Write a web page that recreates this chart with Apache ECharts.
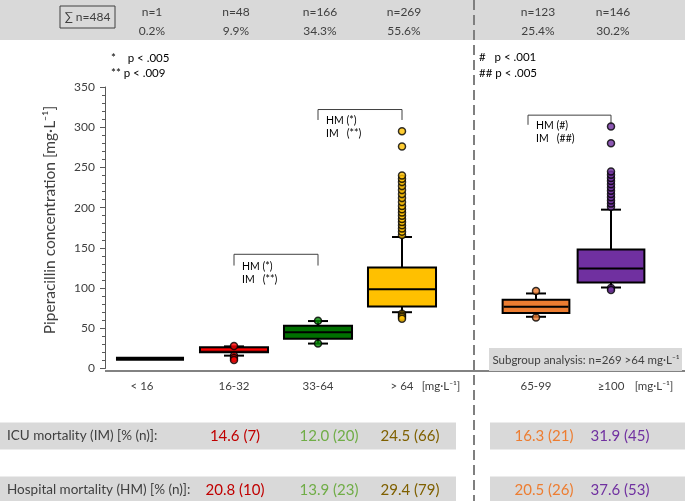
<!DOCTYPE html>
<html><head><meta charset="utf-8">
<script src="https://cdn.jsdelivr.net/npm/echarts@6/dist/echarts.min.js"></script>
<style>html,body{margin:0;padding:0;background:#fff}#c{width:685px;height:501px}</style>
</head><body><div id="c"></div>
<script>
const FONT = 'Lato, "Open Sans", sans-serif';
const TXT = '#404040';

// ---- data ----
const mainCats = ['< 16', '16-32', '33-64', '> 64'];
const subCats = ['65-99', '≥100'];
const mainN = ['n=1', 'n=48', 'n=166', 'n=269'];
const mainPct = ['0.2%', '9.9%', '34.3%', '55.6%'];
const subN = ['n=123', 'n=146'];
const subPct = ['25.4%', '30.2%'];
const totalN = '∑ n=484';
// [min, Q1, median, Q3, max]
const mainBoxes = [
  [12, 12, 12, 12, 12],
  [16, 20.3, 23.5, 26.5, 27.5],
  [31, 37, 45, 53, 59],
  [70, 77, 98.5, 125.5, 163.5]
];
const subBoxes = [
  [64.3, 69, 76.7, 85.5, 93.3],
  [100.7, 107, 124.3, 148, 197.5]
];
const outRed = [28, 16, 13, 10.5];
const outGreen = [59.5, 31];
const outYellow = [68, 66, 64, 62, 166, 170, 174, 178, 182, 186, 190, 194, 198, 202, 207, 212, 217, 222, 227, 232, 236, 240, 276, 295];
const outOrange = [96.5, 63.5];
const outPurple = [100, 97.5, 201, 205, 209, 213, 217, 221, 225, 229, 233, 237, 241, 245, 280, 301];
const icuMain = ['14.6 (7)', '12.0 (20)', '24.5 (66)'];
const icuSub = ['16.3 (21)', '31.9 (45)'];
const hospMain = ['20.8 (10)', '13.9 (23)', '29.4 (79)'];
const hospSub = ['20.5 (26)', '37.6 (53)'];
const yTicks = [0, 50, 100, 150, 200, 250, 300, 350];

// ---- styles ----
const mainFill = ['#000000', '#6e0000', '#007000', '#ffc000'];
const mainMed = ['#000000', '#ff0000', '#000000', '#000000'];
const subFill = ['#ed7d31', '#7030a0'];
const subMed = ['#000000', '#000000'];
const valColMain = ['#c00000', '#70ad47', '#7f6000'];
const valColSub = ['#ed7d31', '#7030a0'];

function boxRenderer(fills, meds, ratio) {
  return function (params, api) {
    const x = api.value(0);
    const lo = api.coord([x, api.value(1)]);
    const q1 = api.coord([x, api.value(2)]);
    const md = api.coord([x, api.value(3)]);
    const q3 = api.coord([x, api.value(4)]);
    const hi = api.coord([x, api.value(5)]);
    const bw = api.size([1, 0])[0] * ratio;
    const cx = lo[0];
    const cap = 10;
    const i = params.dataIndex;
    const flat = (q1[1] - q3[1]) < 1;
    if (flat) {
      return { type: 'line', shape: { x1: cx - bw / 2, y1: md[1], x2: cx + bw / 2, y2: md[1] }, style: { stroke: '#000', lineWidth: 4 } };
    }
    return {
      type: 'group',
      children: [
        { type: 'line', shape: { x1: cx, y1: hi[1], x2: cx, y2: lo[1] }, style: { stroke: '#000', lineWidth: 2 } },
        { type: 'line', shape: { x1: cx - cap, y1: hi[1], x2: cx + cap, y2: hi[1] }, style: { stroke: '#000', lineWidth: 2 } },
        { type: 'line', shape: { x1: cx - cap, y1: lo[1], x2: cx + cap, y2: lo[1] }, style: { stroke: '#000', lineWidth: 2 } },
        { type: 'rect', shape: { x: cx - bw / 2, y: q3[1], width: bw, height: q1[1] - q3[1] }, style: { fill: fills[i], stroke: '#000', lineWidth: 2 } },
        { type: 'line', shape: { x1: cx - bw / 2 + 1, y1: md[1], x2: cx + bw / 2 - 1, y2: md[1] }, style: { stroke: meds[i], lineWidth: 2 } }
      ]
    };
  };
}

const mainBoxData = mainBoxes.map((b, i) => [i].concat(b));
const subBoxData = subBoxes.map((b, i) => [i].concat(b));

function scat(idx, vals) { return vals.map(v => [idx, v]); }

function outlierSeries(xi, yi, data, color) {
  return {
    type: 'scatter', xAxisIndex: xi, yAxisIndex: yi, data: data, symbolSize: 7, z: 5,
    itemStyle: { color: color, borderColor: '#000', borderWidth: 1.5 }, silent: true
  };
}

const chart = echarts.init(document.getElementById('c'));
const axisCol = '#595959';
const option = {
  animation: false,
  textStyle: { fontFamily: FONT },
  grid: [
    { left: 108, top: 87, width: 336, height: 281.5 },
    { left: 498.5, top: 87, width: 150, height: 281.5 }
  ],
  xAxis: [
    { type: 'category', gridIndex: 0, data: mainCats, axisLine: { show: false }, axisTick: { show: false },
      axisLabel: { color: TXT, fontSize: 11.5, margin: 12, fontFamily: FONT,
        formatter: (v, i) => i === 0 ? '{s|' + v + '}' : v,
        rich: { s: { padding: [0, 16, 0, 0], fontSize: 11.5, color: TXT, fontFamily: FONT } } } },
    { type: 'category', gridIndex: 1, data: subCats, axisLine: { show: false }, axisTick: { show: false },
      axisLabel: { color: TXT, fontSize: 11.5, margin: 12, fontFamily: FONT } }
  ],
  yAxis: [
    { type: 'value', gridIndex: 0, min: yTicks[0], max: yTicks[yTicks.length - 1], interval: 50, offset: 3,
      axisLine: { show: true, lineStyle: { color: axisCol, width: 1 } },
      axisTick: { show: true, length: 5, lineStyle: { color: axisCol } },
      minorTick: { show: true, splitNumber: 5, length: 3, lineStyle: { color: axisCol } },
      splitLine: { show: false },
      axisLabel: { color: TXT, fontSize: 12, margin: 10, fontFamily: FONT } },
    { type: 'value', gridIndex: 1, min: 0, max: 350, interval: 50, show: false, splitLine: { show: false } }
  ],
  series: [
    { type: 'custom', xAxisIndex: 0, yAxisIndex: 0, data: mainBoxData, renderItem: boxRenderer(mainFill, mainMed, 0.81), z: 3 },
    { type: 'custom', xAxisIndex: 1, yAxisIndex: 1, data: subBoxData, renderItem: boxRenderer(subFill, subMed, 0.89), z: 3 },
    outlierSeries(0, 0, scat(1, outRed), '#ff0000'),
    outlierSeries(0, 0, scat(2, outGreen), '#008a00'),
    outlierSeries(0, 0, scat(3, outYellow), '#ffc000'),
    outlierSeries(1, 1, scat(0, outOrange), '#ed7d31'),
    outlierSeries(1, 1, scat(1, outPurple), '#7030a0')
  ]
};
chart.setOption(option);

// ---- annotations (positions derived from the axes) ----
function px(g, cat, val) { return chart.convertToPixel({ gridIndex: g }, [cat, val]); }
const brackets = [
  { g: 0, from: 1, to: 2, top: 142, leg: 128, dx: 0, l1: 'HM (*)', l2: 'IM   (**)' },
  { g: 0, from: 2, to: 3, top: 322, leg: 309, dx: 0, l1: 'HM (*)', l2: 'IM   (**)' },
  { g: 1, from: 0, to: 1, top: 315, leg: 303, dx: -8, l1: 'HM (#)', l2: 'IM   (##)' }
];
const gr = [];
// top band
gr.push({ type: 'rect', shape: { x: 0, y: 0, width: 685, height: 40 }, style: { fill: '#d9d9d9' }, z: 0 });
gr.push({ type: 'rect', shape: { x: 60, y: 6, width: 55, height: 22 }, style: { fill: 'none', stroke: '#404040', lineWidth: 1 }, z: 2 });
gr.push({ type: 'text', x: 87.5, y: 17, style: { text: totalN, fill: TXT, font: '12px ' + FONT, align: 'center', verticalAlign: 'middle' }, z: 2 });
mainN.forEach((t, i) => {
  const p = px(0, i, 0);
  gr.push({ type: 'text', x: p[0] + 2, y: 12, style: { text: t, fill: TXT, font: '12px ' + FONT, align: 'center', verticalAlign: 'middle' }, z: 2 });
  gr.push({ type: 'text', x: p[0] + 2, y: 31, style: { text: mainPct[i], fill: TXT, font: '12px ' + FONT, align: 'center', verticalAlign: 'middle' }, z: 2 });
});
subN.forEach((t, i) => {
  const p = px(1, i, 0);
  gr.push({ type: 'text', x: p[0] + 2, y: 12, style: { text: t, fill: TXT, font: '12px ' + FONT, align: 'center', verticalAlign: 'middle' }, z: 2 });
  gr.push({ type: 'text', x: p[0] + 2, y: 31, style: { text: subPct[i], fill: TXT, font: '12px ' + FONT, align: 'center', verticalAlign: 'middle' }, z: 2 });
});
// p-value keys
gr.push({ type: 'text', x: 111, y: 58, style: { text: '*    p < .005', fill: '#000', font: '11.5px ' + FONT, verticalAlign: 'middle' } });
gr.push({ type: 'text', x: 111, y: 73, style: { text: '** p < .009', fill: '#000', font: '11.5px ' + FONT, verticalAlign: 'middle' } });
gr.push({ type: 'text', x: 479, y: 57, style: { text: '#   p < .001', fill: '#000', font: '11.5px ' + FONT, verticalAlign: 'middle' } });
gr.push({ type: 'text', x: 479, y: 73, style: { text: '## p < .005', fill: '#000', font: '11.5px ' + FONT, verticalAlign: 'middle' } });
// y title
gr.push({ type: 'text', x: 50, y: 220, rotation: Math.PI / 2, style: { text: 'Piperacillin concentration [mg·L⁻¹]', fill: TXT, font: '15.5px ' + FONT, align: 'center', verticalAlign: 'middle' } });
// x axis baseline
gr.push({ type: 'line', shape: { x1: 105, y1: 371, x2: 685, y2: 371 }, style: { stroke: axisCol, lineWidth: 1.5 } });
// units
gr.push({ type: 'text', x: 441, y: 386, style: { text: '[mg·L⁻¹]', fill: TXT, font: '11.5px ' + FONT, align: 'center', verticalAlign: 'middle' } });
gr.push({ type: 'text', x: 654, y: 386, style: { text: '[mg·L⁻¹]', fill: TXT, font: '11.5px ' + FONT, align: 'center', verticalAlign: 'middle' } });
// subgroup box
gr.push({ type: 'rect', shape: { x: 489, y: 348, width: 193, height: 23 }, style: { fill: '#d9d9d9' } });
gr.push({ type: 'text', x: 586, y: 360, style: { text: 'Subgroup analysis: n=269 >64 mg·L⁻¹', fill: TXT, font: '11.5px ' + FONT, align: 'center', verticalAlign: 'middle' } });
// brackets
brackets.forEach(b => {
  const a = px(b.g, b.from, b.top), c = px(b.g, b.to, b.top);
  const aL = px(b.g, b.from, b.leg);
  const x1 = a[0] + b.dx, x2 = c[0];
  gr.push({ type: 'polyline', shape: { points: [[x1, aL[1]], [x1, a[1]], [x2, a[1]], [x2, aL[1]]] }, style: { stroke: '#404040', lineWidth: 1, fill: 'none' } });
  gr.push({ type: 'text', x: x1 + 8, y: aL[1] + 1, style: { text: b.l1, fill: '#000', font: '10.5px ' + FONT, verticalAlign: 'middle' } });
  gr.push({ type: 'text', x: x1 + 8, y: aL[1] + 14, style: { text: b.l2, fill: '#000', font: '10.5px ' + FONT, verticalAlign: 'middle' } });
});
// mortality table
const rows = [
  { y: 436, label: 'ICU mortality (IM) [% (n)]:', main: icuMain, sub: icuSub },
  { y: 490, label: 'Hospital mortality (HM) [% (n)]:', main: hospMain, sub: hospSub }
];
const mainValDx = [1, 11, 8];
const subValDx = [8, 9];
rows.forEach(r => {
  gr.push({ type: 'rect', shape: { x: 0, y: r.y - 13.5, width: 456, height: 27 }, style: { fill: '#d9d9d9' }, z: 0 });
  gr.push({ type: 'rect', shape: { x: 490, y: r.y - 13.5, width: 195, height: 27 }, style: { fill: '#d9d9d9' }, z: 0 });
  gr.push({ type: 'text', x: 7, y: r.y, style: { text: r.label, fill: TXT, font: '13.5px ' + FONT, verticalAlign: 'middle' }, z: 2 });
  r.main.forEach((t, i) => {
    const p = px(0, i + 1, 0);
    gr.push({ type: 'text', x: p[0] + mainValDx[i], y: r.y, style: { text: t, fill: valColMain[i], font: '15px ' + FONT, align: 'center', verticalAlign: 'middle' }, z: 2 });
  });
  r.sub.forEach((t, i) => {
    const p = px(1, i, 0);
    gr.push({ type: 'text', x: p[0] + subValDx[i], y: r.y, style: { text: t, fill: valColSub[i], font: '15px ' + FONT, align: 'center', verticalAlign: 'middle' }, z: 2 });
  });
});
// dashed separator
gr.push({ type: 'line', shape: { x1: 474, y1: 0, x2: 474, y2: 501 }, style: { stroke: '#7f7f7f', lineWidth: 2, lineDash: [10, 5] }, z: 10 });

chart.setOption({ graphic: { elements: gr } });
</script>
</body></html>
